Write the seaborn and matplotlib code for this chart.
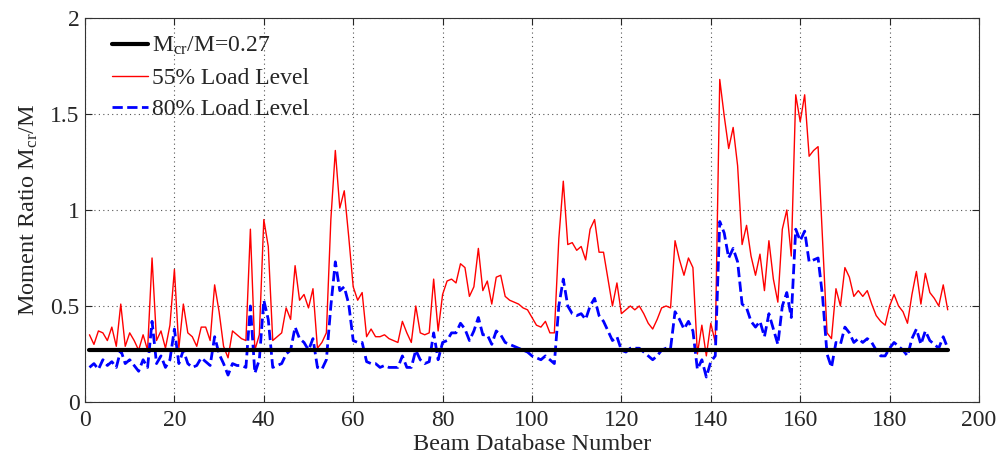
import matplotlib
matplotlib.use("Agg")
import matplotlib.pyplot as plt
import seaborn as sns
import numpy as np
import pandas as pd

beam_number = list(range(1, 194))

load55 = [
    0.35, 0.30, 0.37, 0.36, 0.32, 0.39, 0.29, 0.51, 0.29, 0.36,
    0.32, 0.27, 0.35, 0.27, 0.75, 0.32, 0.37, 0.28, 0.40, 0.69,
    0.28, 0.51, 0.36, 0.34, 0.29, 0.39, 0.39, 0.32, 0.61, 0.47,
    0.29, 0.23, 0.37, 0.35, 0.33, 0.32, 0.90, 0.27, 0.35, 0.95,
    0.81, 0.32, 0.34, 0.36, 0.49, 0.43, 0.71, 0.53, 0.56, 0.49,
    0.59, 0.28, 0.31, 0.36, 0.95, 1.31, 1.01, 1.10, 0.86, 0.60,
    0.53, 0.57, 0.34, 0.38, 0.34, 0.34, 0.35, 0.33, 0.32, 0.31,
    0.42, 0.36, 0.31, 0.50, 0.36, 0.35, 0.36, 0.64, 0.37, 0.56,
    0.63, 0.64, 0.62, 0.72, 0.70, 0.55, 0.60, 0.80, 0.58, 0.63,
    0.51, 0.65, 0.66, 0.55, 0.53, 0.52, 0.51, 0.49, 0.48, 0.44,
    0.40, 0.39, 0.42, 0.36, 0.36, 0.85, 1.15, 0.82, 0.83, 0.79,
    0.81, 0.74, 0.90, 0.95, 0.78, 0.78, 0.64, 0.50, 0.62, 0.46,
    0.48, 0.50, 0.48, 0.50, 0.46, 0.41, 0.38, 0.43, 0.49, 0.50,
    0.49, 0.84, 0.74, 0.66, 0.75, 0.70, 0.25, 0.40, 0.24, 0.41,
    0.31, 1.68, 1.49, 1.32, 1.43, 1.23, 0.82, 0.92, 0.76, 0.66,
    0.77, 0.58, 0.84, 0.64, 0.52, 0.90, 1.00, 0.76, 1.60, 1.46,
    1.60, 1.28, 1.31, 1.33, 0.85, 0.36, 0.33, 0.59, 0.50, 0.70,
    0.65, 0.55, 0.58, 0.55, 0.58, 0.51, 0.45, 0.42, 0.40, 0.50,
    0.56, 0.50, 0.47, 0.41, 0.56, 0.68, 0.51, 0.67, 0.57, 0.54,
    0.50, 0.61, 0.48,
]

load80 = [
    0.18, 0.20, 0.17, 0.22, 0.19, 0.21, 0.18, 0.27, 0.20, 0.22,
    0.19, 0.16, 0.22, 0.18, 0.42, 0.20, 0.24, 0.18, 0.22, 0.38,
    0.20, 0.27, 0.20, 0.18, 0.19, 0.23, 0.21, 0.19, 0.34, 0.25,
    0.20, 0.14, 0.20, 0.19, 0.19, 0.18, 0.50, 0.15, 0.22, 0.53,
    0.43, 0.18, 0.19, 0.20, 0.25, 0.27, 0.39, 0.33, 0.31, 0.27,
    0.33, 0.18, 0.17, 0.22, 0.50, 0.73, 0.58, 0.60, 0.51, 0.32,
    0.31, 0.31, 0.21, 0.20, 0.20, 0.18, 0.19, 0.18, 0.18, 0.18,
    0.24, 0.18, 0.18, 0.27, 0.22, 0.20, 0.21, 0.36, 0.22, 0.31,
    0.32, 0.36, 0.36, 0.41, 0.38, 0.32, 0.37, 0.44, 0.35, 0.35,
    0.30, 0.37, 0.35, 0.31, 0.30, 0.29, 0.28, 0.27, 0.26, 0.24,
    0.23, 0.22, 0.24, 0.22, 0.20, 0.50, 0.64, 0.50, 0.46, 0.45,
    0.46, 0.43, 0.50, 0.54, 0.45, 0.42, 0.37, 0.32, 0.34, 0.27,
    0.26, 0.28, 0.28, 0.28, 0.26, 0.24, 0.22, 0.24, 0.27, 0.28,
    0.28, 0.47, 0.43, 0.38, 0.42, 0.37, 0.17, 0.22, 0.13, 0.21,
    0.24, 0.94, 0.88, 0.75, 0.80, 0.73, 0.51, 0.49, 0.42, 0.39,
    0.42, 0.34, 0.46, 0.38, 0.30, 0.50, 0.57, 0.44, 0.90, 0.84,
    0.89, 0.73, 0.74, 0.75, 0.55, 0.25, 0.18, 0.31, 0.30, 0.39,
    0.36, 0.31, 0.33, 0.31, 0.33, 0.31, 0.27, 0.24, 0.24, 0.28,
    0.31, 0.29, 0.27, 0.24, 0.33, 0.38, 0.30, 0.37, 0.32, 0.30,
    0.28, 0.34, 0.28,
]

mcr_ratio = 0.27
x_ticks = [0, 20, 40, 60, 80, 100, 120, 140, 160, 180, 200]
y_ticks = [0, 0.5, 1, 1.5, 2]
y_tick_labels = ["0", "0.5", "1", "1.5", "2"]

sns.set_style("ticks")
plt.rcParams["font.family"] = ["Liberation Serif", "DejaVu Serif"]
plt.rcParams["mathtext.fontset"] = "custom"
plt.rcParams["mathtext.rm"] = "Liberation Serif"
plt.rcParams["mathtext.it"] = "Liberation Serif:italic"

df = pd.DataFrame({
    "beam": beam_number,
    "l55": load55,
    "l80": load80,
    "mcr": [mcr_ratio] * len(beam_number),
})

fig = plt.figure(figsize=(10, 4.57), dpi=100)
ax = fig.add_axes([0.085, 0.1204, 0.894, 0.8402])

sns.lineplot(data=df, x="beam", y="mcr", color="black", linewidth=3,
             label=r"M$_{\rm cr}$/M=0.27", ax=ax, zorder=4)
sns.lineplot(data=df, x="beam", y="l55", color="red", linewidth=1,
             label="55% Load Level", ax=ax, zorder=3)
sns.lineplot(data=df, x="beam", y="l80", color="blue", linewidth=2,
             linestyle="--", dashes=(4, 2), label="80% Load Level",
             ax=ax, zorder=3)

ax.set_xlim(0, 200)
ax.set_ylim(0, 2)
ax.set_xticks(x_ticks)
ax.set_yticks(y_ticks)
ax.set_yticklabels(y_tick_labels)
ax.grid(True, linestyle=(0, (1, 3)), color="#555555", linewidth=0.8)
ax.set_axisbelow(True)
ax.tick_params(direction="in", top=True, right=True, labelsize=17, length=5,
               width=0.8)
ax.tick_params(axis="x", pad=6)
ax.tick_params(axis="y", pad=4)
for s in ax.spines.values():
    s.set_visible(True)
    s.set_linewidth(0.8)
    s.set_color("#333333")

ax.set_xlabel("Beam Database Number", fontsize=17.5, labelpad=2)
ax.set_ylabel(r"Moment Ratio M$_{\rm cr}$/M", fontsize=17.5, labelpad=7)

leg = ax.legend(loc="upper left", frameon=False, fontsize=17,
                handlelength=1.5, handletextpad=0.2, labelspacing=0.42,
                borderaxespad=0.0, borderpad=0.4,
                bbox_to_anchor=(0.020, 0.980))

fig.savefig("out.png", dpi=100)
